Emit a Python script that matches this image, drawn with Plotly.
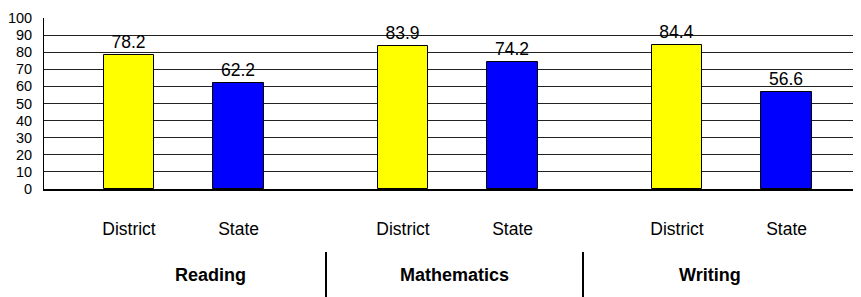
import plotly.graph_objects as go

subjects = ["Reading", "Mathematics", "Writing"]
groups = ["District", "State"]
district_values = [78.2, 83.9, 84.4]
state_values = [62.2, 74.2, 56.6]
y_ticks = [0, 10, 20, 30, 40, 50, 60, 70, 80, 90, 100]

# layout geometry (window pixels); page body has an 8px margin
OFF = 8
W, H = 861, 297
ML, MT, MB = 44, 18, 108
slot = 54.8           # px per x unit
x0_px = 129           # window pixel of x = 0
plot_w = W - ML
plot_h = H - MT - MB

def xpos(g, m):
    return g * 5 + m * 2

def px_to_paper_x(px):
    return (px - ML) / plot_w

def px_to_paper_y(py):
    return (H - MB - py) / plot_h

font = "Liberation Sans, Arial, sans-serif"

fig = go.Figure()
fig.add_trace(go.Bar(
    x=[xpos(i, 0) for i in range(len(subjects))], y=district_values,
    marker=dict(color="#FFFF00", line=dict(color="black", width=1)),
    width=0.93, text=[f"{v:.1f}" for v in district_values],
    textposition="outside", cliponaxis=False,
    textfont=dict(family=font, size=17.5, color="black"), name="District"))
fig.add_trace(go.Bar(
    x=[xpos(i, 1) for i in range(len(subjects))], y=state_values,
    marker=dict(color="#0000FF", line=dict(color="black", width=1)),
    width=0.93, text=[f"{v:.1f}" for v in state_values],
    textposition="outside", cliponaxis=False,
    textfont=dict(family=font, size=17.5, color="black"), name="State"))

tickvals, ticktext = [], []
for g in range(len(subjects)):
    for m, name in enumerate(groups):
        tickvals.append(xpos(g, m))
        ticktext.append(name)

fig.update_layout(
    width=W - OFF, height=H - OFF, autosize=False,
    margin=dict(l=ML - OFF, r=0, t=MT - OFF, b=MB),
    paper_bgcolor="white", plot_bgcolor="white",
    showlegend=False, bargap=0,
    font=dict(family=font, color="black"),
    xaxis=dict(range=[-(x0_px - ML) / slot, (W - x0_px) / slot],
               tickvals=tickvals, ticktext=ticktext,
               tickfont=dict(size=17.5), ticks="", ticklabelstandoff=23,
               showgrid=False, zeroline=False,
               showline=True, linecolor="black", linewidth=2),
    yaxis=dict(range=[0, 100], tickvals=y_ticks, tickfont=dict(size=14.5),
               ticks="", ticklabelstandoff=8,
               showgrid=True, gridcolor="#222", gridwidth=1,
               zeroline=False, showline=True, linecolor="black", linewidth=1),
)

label_px = [210, 454, 710]
for s, px in zip(subjects, label_px):
    fig.add_annotation(text=f"<b>{s}</b>", xref="paper", yref="paper",
                       x=px_to_paper_x(px), y=px_to_paper_y(275),
                       showarrow=False, xanchor="center", yanchor="middle",
                       font=dict(family=font, size=18, color="black"))

for px in [326, 583]:
    fig.add_shape(type="line", xref="paper", yref="paper",
                  x0=px_to_paper_x(px), x1=px_to_paper_x(px),
                  y0=px_to_paper_y(252), y1=px_to_paper_y(297),
                  line=dict(color="black", width=2))

fig.write_html("out.html")
